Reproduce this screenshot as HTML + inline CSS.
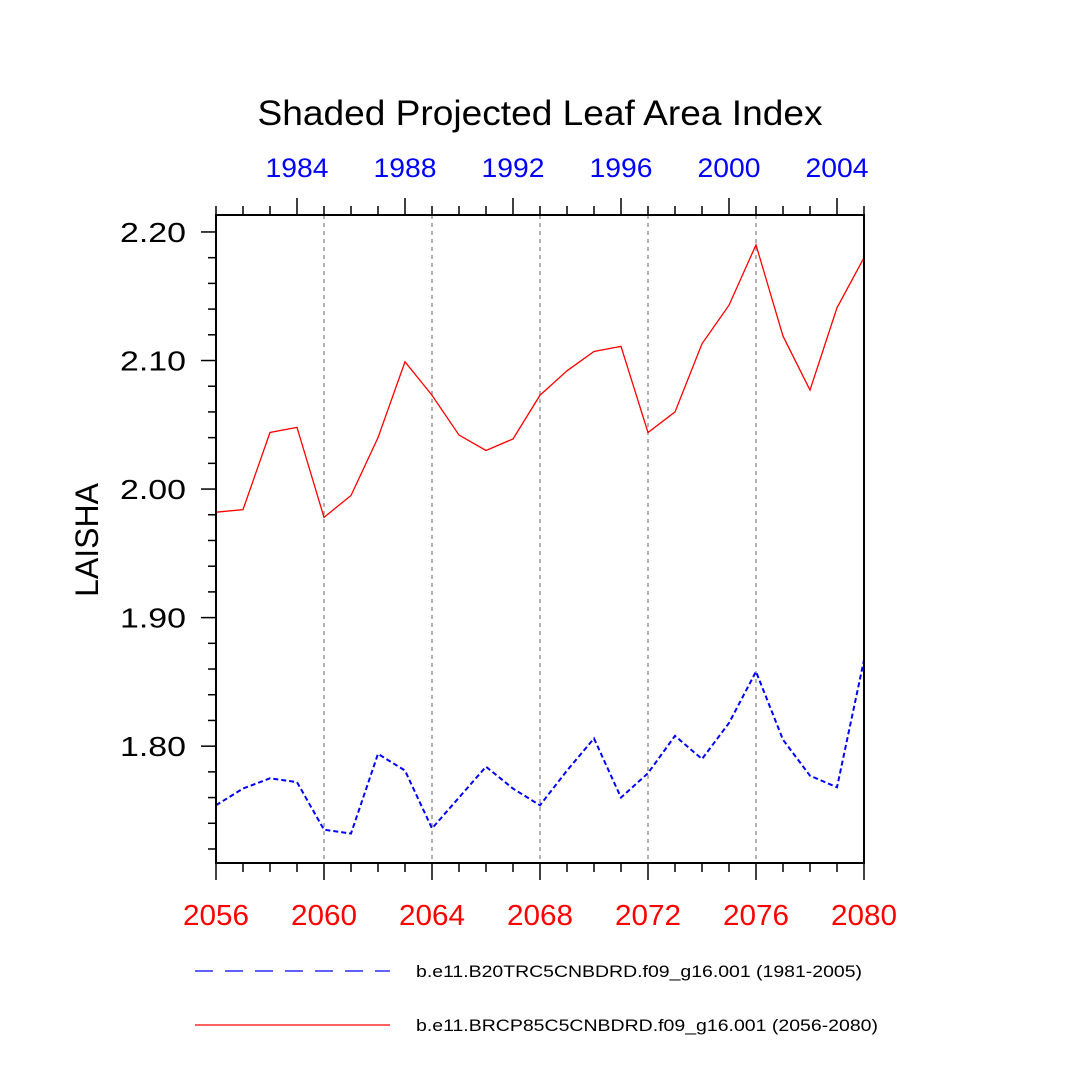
<!DOCTYPE html>
<html><head><meta charset="utf-8"><style>
html,body{margin:0;padding:0;background:#fff}
svg text{font-family:"Liberation Sans",sans-serif}
</style></head><body>
<svg id="chart" width="1080" height="1080" xmlns="http://www.w3.org/2000/svg">
<text x="540" y="125" font-size="35" text-anchor="middle" textLength="565" lengthAdjust="spacingAndGlyphs">Shaded Projected Leaf Area Index</text>
<text x="0" y="0" font-size="32" text-anchor="middle" transform="translate(98,540) rotate(-90)">LAISHA</text>
<g id="grid"></g><g id="axes"></g><g id="series"></g>
<rect x="216" y="215" width="648" height="648" fill="none" stroke="#000" stroke-width="2"/>
<line x1="195" y1="971" x2="390" y2="971" stroke="#00f" stroke-width="1.2" stroke-dasharray="18,12"/>
<text x="416" y="977" font-size="17" textLength="446" lengthAdjust="spacingAndGlyphs">b.e11.B20TRC5CNBDRD.f09_g16.001 (1981-2005)</text>
<line x1="195" y1="1025" x2="390" y2="1025" stroke="#f00" stroke-width="1.2"/>
<text x="416" y="1031" font-size="17" textLength="462" lengthAdjust="spacingAndGlyphs">b.e11.BRCP85C5CNBDRD.f09_g16.001 (2056-2080)</text>
</svg>
<script>
const bottomYears=[2056,2057,2058,2059,2060,2061,2062,2063,2064,2065,2066,2067,2068,2069,2070,2071,2072,2073,2074,2075,2076,2077,2078,2079,2080];
const topYears=[1981,1982,1983,1984,1985,1986,1987,1988,1989,1990,1991,1992,1993,1994,1995,1996,1997,1998,1999,2000,2001,2002,2003,2004,2005];
const redValues=[1.982,1.984,2.044,2.048,1.978,1.995,2.040,2.099,2.073,2.042,2.030,2.039,2.073,2.092,2.107,2.111,2.044,2.060,2.113,2.143,2.190,2.119,2.077,2.141,2.180];
const blueValues=[1.754,1.767,1.775,1.772,1.735,1.732,1.794,1.781,1.736,1.760,1.784,1.767,1.754,1.781,1.806,1.760,1.779,1.808,1.790,1.818,1.858,1.805,1.777,1.768,1.867];
const yTicks=[1.80,1.90,2.00,2.10,2.20];
const bottomTickLabels=[2056,2060,2064,2068,2072,2076,2080];
const topTickLabels=[1984,1988,1992,1996,2000,2004];
const NS="http://www.w3.org/2000/svg";
const X0=216,X1=864,Y0=863,Y1=215,YMIN=1.7091,YMAX=2.2132;
function xb(y){return X0+(y-2056)/24*(X1-X0);}
function xt(y){return X0+(y-1981)/24*(X1-X0);}
function yv(v){return Y0-(v-YMIN)/(YMAX-YMIN)*(Y0-Y1);}
function mk(tag,attrs,parent,txt){const e=document.createElementNS(NS,tag);for(const k in attrs)e.setAttribute(k,attrs[k]);if(txt!==undefined)e.textContent=txt;document.getElementById(parent).appendChild(e);return e;}
bottomTickLabels.forEach(y=>{if(y===2056||y===2080)return;const l=mk('line',{x1:xb(y),x2:xb(y),y1:Y1,y2:Y0,stroke:'#999','stroke-width':1.5,'stroke-dasharray':'4,4'},'grid');

});
bottomYears.forEach(y=>{const major=bottomTickLabels.includes(y);const l=mk('line',{x1:xb(y),x2:xb(y),y1:Y0,y2:Y0+(major?17:9),stroke:'#000','stroke-width':1.5},'axes');

});
bottomTickLabels.forEach(y=>{const t=mk('text',{x:xb(y),y:925,'font-size':29,fill:'#f00','text-anchor':'middle',textLength:66,lengthAdjust:'spacingAndGlyphs'},'axes',String(y));

});
topYears.forEach(y=>{const major=topTickLabels.includes(y);const l=mk('line',{x1:xt(y),x2:xt(y),y1:Y1,y2:Y1-(major?17:9),stroke:'#000','stroke-width':1.5},'axes');

});
topTickLabels.forEach(y=>{const t=mk('text',{x:xt(y),y:177,'font-size':27,fill:'#00f','text-anchor':'middle',textLength:63,lengthAdjust:'spacingAndGlyphs'},'axes',String(y));

});
for(let i=0;i<=25;i++){const v=1.72+i*0.02;if(v>YMAX)break;const major=yTicks.some(t=>Math.abs(t-v)<1e-6);
const l=mk('line',{x1:X0,x2:X0-(major?15:8),y1:yv(v),y2:yv(v),stroke:'#000','stroke-width':1.5},'axes');

}
yTicks.forEach(v=>{const t=mk('text',{x:186,y:yv(v)+10,'font-size':28,'text-anchor':'end',textLength:66,lengthAdjust:'spacingAndGlyphs'},'axes',v.toFixed(2));

});
const rp=mk('polyline',{points:redValues.map((v,i)=>xb(bottomYears[i])+','+yv(v)).join(' '),fill:'none',stroke:'#f00','stroke-width':1.3},'series');


const bp=mk('polyline',{points:blueValues.map((v,i)=>xt(topYears[i])+','+yv(v)).join(' '),fill:'none',stroke:'#00f','stroke-width':2,'stroke-dasharray':'5,3'},'series');


</script>
</body></html>
